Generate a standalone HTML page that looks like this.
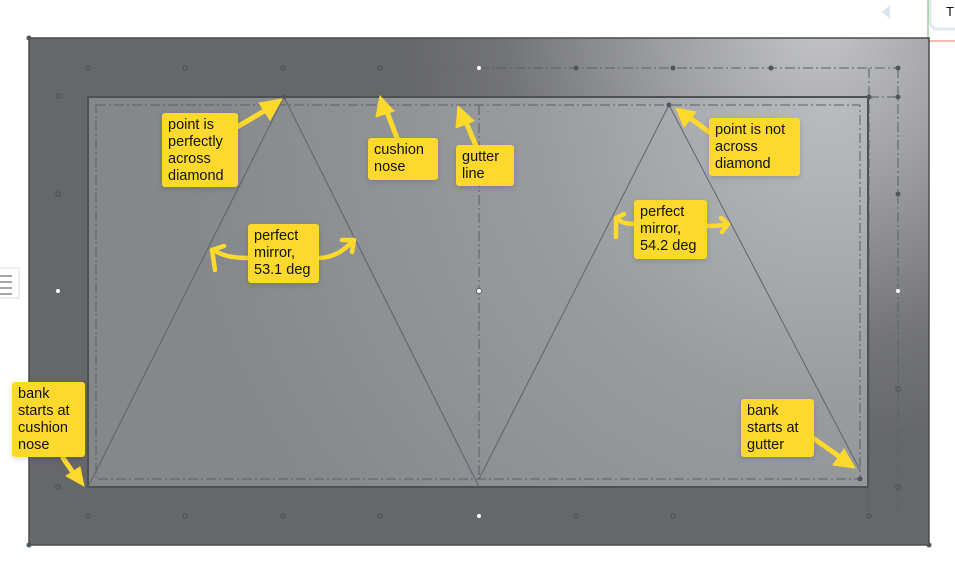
<!DOCTYPE html>
<html><head><meta charset="utf-8"><style>
html,body{margin:0;padding:0;background:#fff;width:955px;height:562px;overflow:hidden;position:relative;font-family:"Liberation Sans",sans-serif}
.l{position:absolute;background:#fdd92e;border-radius:3px;color:#111;font-size:14.5px;line-height:17px;padding:4px 6px;box-sizing:border-box;box-shadow:0 2px 6px rgba(0,0,0,.15)}
</style></head><body>
<svg width="955" height="562" style="position:absolute;left:0;top:0">
<defs>
<radialGradient id="g1" gradientUnits="userSpaceOnUse" cx="820" cy="30" r="420">
<stop offset="0" stop-color="#c2c3c5"/><stop offset="0.35" stop-color="#a0a1a3"/><stop offset="0.75" stop-color="#737476"/><stop offset="1" stop-color="#666769"/></radialGradient>
<radialGradient id="g2" gradientUnits="userSpaceOnUse" cx="830" cy="110" r="650">
<stop offset="0" stop-color="#b9bbbd"/><stop offset="0.45" stop-color="#999c9f"/><stop offset="1" stop-color="#85888b"/></radialGradient>
</defs>
<polygon points="882,12 890,5 890,19" fill="#dde3ea"/>
<line x1="928" y1="0" x2="928" y2="38" stroke="#6cbf6c"/>
<line x1="929" y1="41" x2="955" y2="41" stroke="#e07a6a"/>
<rect x="930" y="-5" width="40" height="34" rx="8" fill="#fff" stroke="#e3e8ee" stroke-width="3"/>
<text x="946" y="16" font-size="13" fill="#111">T</text>
<rect x="-5" y="268" width="24" height="30" fill="#fff" stroke="#ddd"/>
<g stroke="#888" stroke-width="1.5"><line x1="0" y1="276" x2="12" y2="276"/><line x1="0" y1="282" x2="12" y2="282"/><line x1="0" y1="288" x2="12" y2="288"/><line x1="0" y1="294" x2="12" y2="294"/></g>
<rect x="29" y="38" width="900" height="507" fill="#666769"/>
<rect x="29" y="38" width="900" height="507" fill="url(#g1)" stroke="#4a4b4d" stroke-width="1.5"/>
<rect x="88" y="97" width="780" height="390" fill="url(#g2)" stroke="#4f5052" stroke-width="2"/>
<g fill="none" stroke="#5a6068" stroke-width="1" stroke-dasharray="10,3,2,3">
<rect x="96" y="105" width="764" height="374"/>
<line x1="479" y1="68" x2="898" y2="68"/>
<line x1="898" y1="68" x2="898" y2="516"/>
<line x1="479" y1="105" x2="479" y2="479"/>
<line x1="869" y1="68" x2="869" y2="516"/>
<line x1="869" y1="97" x2="898" y2="97"/>
</g>
<g fill="none" stroke="#5d646c" stroke-width="0.6" opacity="0.6">
<polyline points="479,68 58,68 58,516 898,516"/>
</g>
<g fill="none" stroke="#5d646c" stroke-width="1">
<polyline points="88,487 284,97 479,487"/>
<polyline points="479,479 669,105 860,470"/>
</g>
<g fill="none" stroke="#4a5058" stroke-width="1">
<circle cx="88" cy="68" r="2.2"/><circle cx="185" cy="68" r="2.2"/><circle cx="283" cy="68" r="2.2"/><circle cx="380" cy="68" r="2.2"/>
<circle cx="88" cy="516" r="2.2"/><circle cx="185" cy="516" r="2.2"/><circle cx="283" cy="516" r="2.2"/><circle cx="380" cy="516" r="2.2"/>
<circle cx="576" cy="516" r="2.2"/><circle cx="673" cy="516" r="2.2"/><circle cx="869" cy="516" r="2.2"/>
<circle cx="58" cy="96" r="2.2"/><circle cx="58" cy="194" r="2.2"/><circle cx="58" cy="389" r="2.2"/><circle cx="58" cy="487" r="2.2"/>
<circle cx="898" cy="389" r="2.2"/><circle cx="898" cy="487" r="2.2"/>
</g>
<g fill="#4f565e">
<circle cx="576" cy="68" r="2.5"/><circle cx="673" cy="68" r="2.5"/><circle cx="771" cy="68" r="2.5"/><circle cx="898" cy="68" r="2.5"/>
<circle cx="898" cy="97" r="2.5"/><circle cx="898" cy="194" r="2.5"/><circle cx="869" cy="97" r="2.5"/>
<circle cx="284" cy="97" r="2.5"/><circle cx="669" cy="105" r="2.5"/><circle cx="860" cy="479" r="2.5"/>
<circle cx="29" cy="38" r="2.5"/><circle cx="29" cy="545" r="2.5"/><circle cx="929" cy="545" r="2.5"/>
</g>
<g fill="#fff"><circle cx="479" cy="68" r="2"/><circle cx="479" cy="516" r="2"/><circle cx="58" cy="291" r="2"/><circle cx="898" cy="291" r="2"/><circle cx="479" cy="291" r="2.5" stroke="#666"/></g>
<!-- straight arrows -->
<g stroke="#fdd92e" stroke-width="5" stroke-linecap="round" fill="#fdd92e">
<line x1="237" y1="127" x2="266" y2="110"/><polygon points="282,99 259,103 270,120" stroke-width="1"/>
<line x1="397" y1="138" x2="387" y2="112"/><polygon points="380,96 376,117 394,111" stroke-width="1"/>
<line x1="476" y1="146" x2="466" y2="122"/><polygon points="458,106 456,128 474,121" stroke-width="1"/>
<line x1="709" y1="132" x2="690" y2="118"/><polygon points="676,108 684,127 696,112" stroke-width="1"/>
<line x1="63" y1="458" x2="74" y2="474"/><polygon points="84,486 66,476 80,467" stroke-width="1"/>
<line x1="813" y1="438" x2="840" y2="457"/><polygon points="855,468 833,465 844,449" stroke-width="1"/>
</g>
<g stroke="#fdd92e" stroke-width="4.5" fill="none" stroke-linecap="round" stroke-linejoin="round">
<path d="M248,258 C235,258 222,256 214,250"/><path d="M215,270 L212,250 L224,246"/>
<path d="M318,258 C332,258 342,252 352,242"/><path d="M342,240 L354,240 L352,252"/>
<path d="M634,224 C625,224 620,222 617,218"/><path d="M616,237 L616,218 L624,214"/>
<path d="M706,226 C714,226 720,226 727,224"/><path d="M721,218 L728,224 L722,232"/>
</g>
</svg>
<div class="l" style="left:162px;top:113px;width:76px;height:74px">point is perfectly across diamond</div>
<div class="l" style="left:368px;top:138px;width:70px;height:42px">cushion nose</div>
<div class="l" style="left:456px;top:145px;width:58px;height:41px">gutter line</div>
<div class="l" style="left:709px;top:118px;width:91px;height:58px">point is not across diamond</div>
<div class="l" style="left:248px;top:224px;width:71px;height:59px">perfect mirror, 53.1 deg</div>
<div class="l" style="left:634px;top:200px;width:73px;height:59px">perfect mirror, 54.2 deg</div>
<div class="l" style="left:12px;top:382px;width:73px;height:75px">bank starts at cushion nose</div>
<div class="l" style="left:741px;top:399px;width:73px;height:58px">bank starts at gutter</div>
</body></html>
